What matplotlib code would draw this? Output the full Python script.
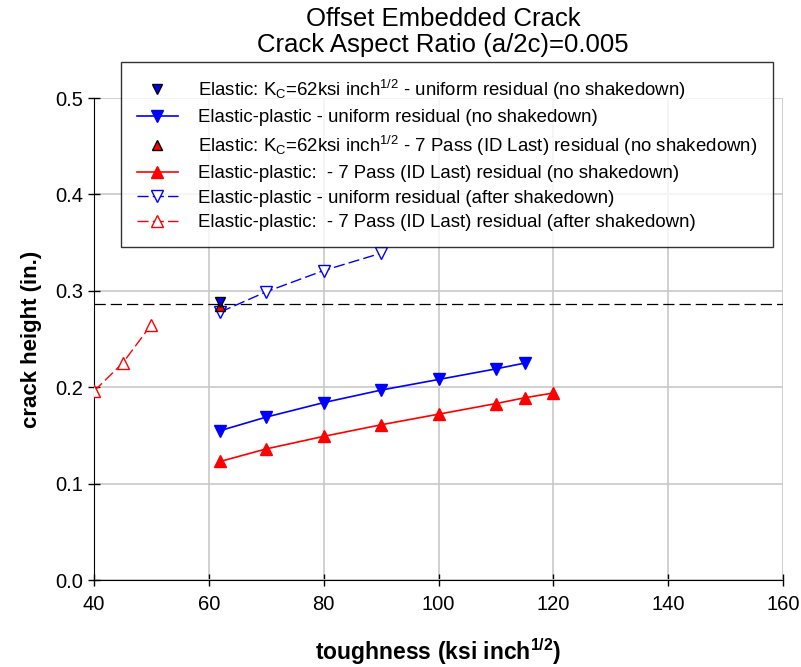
import matplotlib.pyplot as plt

plt.rcParams['font.family'] = ['Liberation Sans', 'DejaVu Sans']
plt.rcParams['mathtext.fontset'] = 'custom'
plt.rcParams['mathtext.rm'] = 'Liberation Sans'
plt.rcParams['mathtext.it'] = 'Liberation Sans:italic'
plt.rcParams['mathtext.bf'] = 'Liberation Sans:bold'

# data
x_ep_uni = [62, 70, 80, 90, 100, 110, 115]
y_ep_uni = [0.155, 0.169, 0.184, 0.197, 0.208, 0.219, 0.225]

x_ep_7p = [62, 70, 80, 90, 100, 110, 115, 120]
y_ep_7p = [0.123, 0.136, 0.149, 0.161, 0.172, 0.183, 0.189, 0.194]

x_sd_uni = [62, 70, 80, 90]
y_sd_uni = [0.278, 0.299, 0.321, 0.339]

x_sd_7p = [40, 45, 50]
y_sd_7p = [0.196, 0.225, 0.265]

x_el = [62]
y_el_uni = [0.288]
y_el_7p = [0.284]

y_ref = 0.286

labels = [
    r"Elastic: K$_\mathregular{C}$=62ksi inch$^\mathregular{1/2}$ - uniform residual (no shakedown)",
    "Elastic-plastic - uniform residual (no shakedown)",
    r"Elastic: K$_\mathregular{C}$=62ksi inch$^\mathregular{1/2}$ - 7 Pass (ID Last) residual (no shakedown)",
    "Elastic-plastic:  - 7 Pass (ID Last) residual (no shakedown)",
    "Elastic-plastic - uniform residual (after shakedown)",
    "Elastic-plastic:  - 7 Pass (ID Last) residual (after shakedown)",
]

fig = plt.figure(figsize=(8.01, 6.67), dpi=100)
ax = fig.add_axes([94/801, 1 - 580/667, (783 - 94)/801, (580 - 98)/667])

ax.axhline(y_ref, color='black', lw=0.9, dashes=(9, 4), zorder=2)

h2, = ax.plot(x_ep_7p, y_ep_7p, color='red', lw=1.2, marker='^', ms=9,
              mfc='red', mec='red', zorder=3)
h1, = ax.plot(x_ep_uni, y_ep_uni, color='blue', lw=1.2, marker='v', ms=9,
              mfc='blue', mec='blue', zorder=3)
h4, = ax.plot(x_sd_7p, y_sd_7p, color='red', lw=1.0, dashes=(8, 3), marker='^',
              ms=9, mfc='white', mec='red', zorder=3)
h3, = ax.plot(x_sd_uni, y_sd_uni, color='blue', lw=1.0, dashes=(8, 3), marker='v',
              ms=9, mfc='white', mec='blue', zorder=3)
he7, = ax.plot(x_el, y_el_7p, ls='none', marker='^', ms=7, mfc='red', mec='black', zorder=4)
heu, = ax.plot(x_el, y_el_uni, ls='none', marker='v', ms=7, mfc='blue', mec='black', zorder=4)

ax.set_xlim(40, 160)
ax.set_ylim(0, 0.5)
ax.set_xticks([40, 60, 80, 100, 120, 140, 160])
ax.set_yticks([0.0, 0.1, 0.2, 0.3, 0.4, 0.5])
ax.set_yticklabels(['0.0', '0.1', '0.2', '0.3', '0.4', '0.5'])
ax.grid(True, color='#c8c8c8', lw=1.2)
ax.set_axisbelow(True)
ax.spines['top'].set_visible(False)
ax.spines['right'].set_visible(False)
ax.tick_params(direction='inout', length=8, labelsize=14.5, width=1)
ax.tick_params(axis='x', pad=7)

ax.set_xlabel(r"toughness (ksi inch$^\mathregular{1/2}$)", fontsize=16.5, fontweight='bold', labelpad=16)
ax.set_ylabel("crack height (in.)", fontsize=16, fontweight='bold', labelpad=10)

fig.text(443/801, 0.99, "Offset Embedded Crack\nCrack Aspect Ratio (a/2c)=0.005",
         ha='center', va='top', fontsize=18.5, linespacing=1.12)

leg = fig.legend([heu, h1, he7, h2, h3, h4], labels,
                 loc='upper left', bbox_to_anchor=(121/801, 1 - 62/667), borderaxespad=0,
                 fontsize=13.4, frameon=True, fancybox=False, edgecolor='black',
                 handlelength=2.2, borderpad=0.85, labelspacing=0.4, handletextpad=1.1)
leg.get_frame().set_linewidth(1.0)

fig.savefig("out.png", dpi=100)
